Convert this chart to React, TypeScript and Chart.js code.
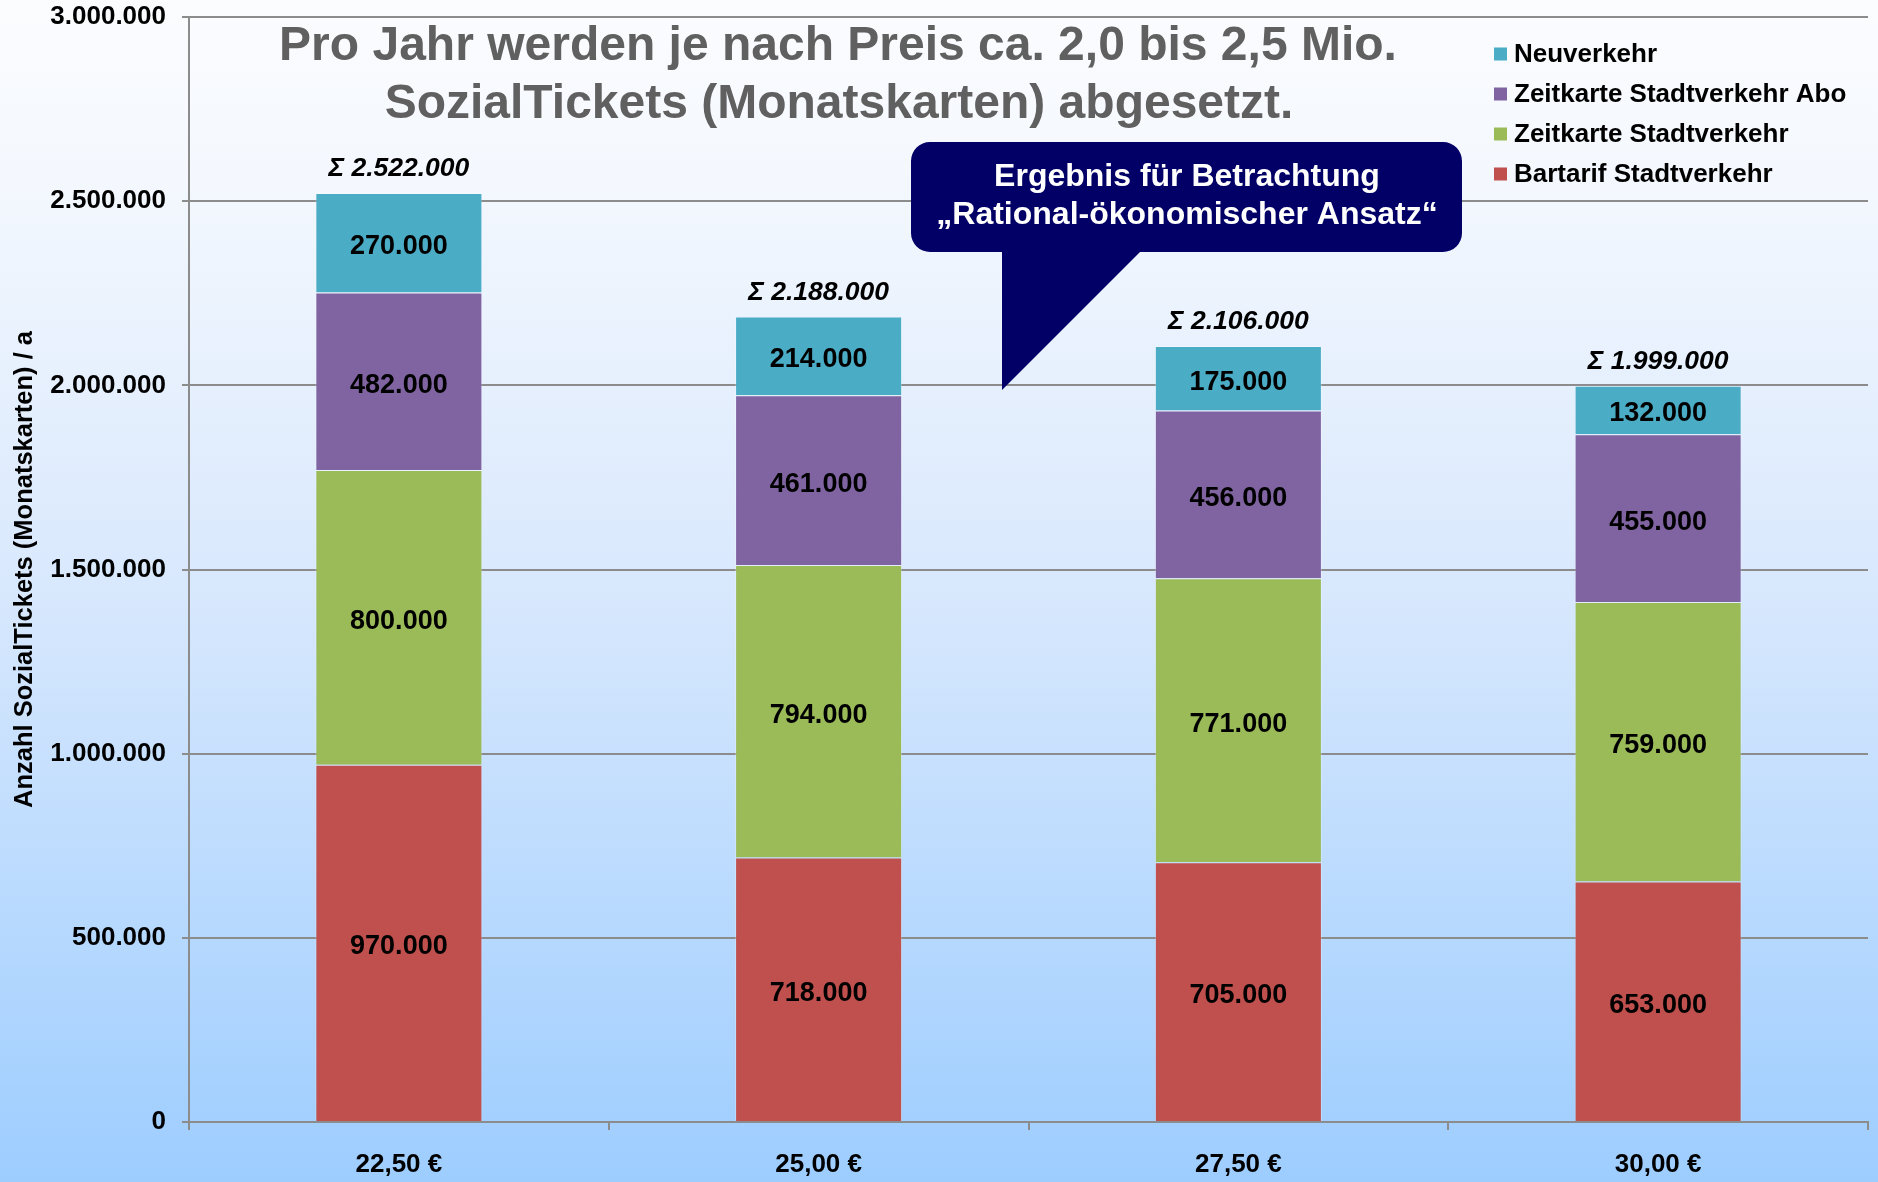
import React, { useEffect, useRef } from "react";
import { Chart, registerables } from "chart.js";

Chart.register(...registerables);

const categories = ["22,50 €", "25,00 €", "27,50 €", "30,00 €"];
const bartarif = [970000, 718000, 705000, 653000];
const zeitkarte = [800000, 794000, 771000, 759000];
const zeitkarteAbo = [482000, 461000, 456000, 455000];
const neuverkehr = [270000, 214000, 175000, 132000];
const totals = [2522000, 2188000, 2106000, 1999000];

const seriesNames = [
  "Bartarif Stadtverkehr",
  "Zeitkarte Stadtverkehr",
  "Zeitkarte Stadtverkehr Abo",
  "Neuverkehr",
];
const seriesColors = ["#C0504D", "#9BBB59", "#8064A2", "#4BACC6"];

const titleLines = [
  "Pro Jahr werden je nach Preis ca. 2,0 bis 2,5 Mio.",
  "SozialTickets (Monatskarten) abgesetzt.",
];
const calloutLines = ["Ergebnis für Betrachtung", "„Rational-ökonomischer Ansatz“"];
const yTitle = "Anzahl SozialTickets (Monatskarten) / a";

const FONT = '"Liberation Sans", Arial, Helvetica, sans-serif';

const fmt = (n: number) =>
  Math.round(n)
    .toString()
    .replace(/\B(?=(\d{3})+(?!\d))/g, ".");

const backgroundPlugin = {
  id: "bg",
  beforeDraw(chart: any) {
    const { ctx, width, height } = chart;
    const g = ctx.createLinearGradient(0, 0, 0, height);
    g.addColorStop(0, "#fbfcfe");
    g.addColorStop(0.15, "#f4f8fe");
    g.addColorStop(0.5, "#d8e8fd");
    g.addColorStop(1, "#9dcdff");
    ctx.save();
    ctx.fillStyle = g;
    ctx.fillRect(0, 0, width, height);
    ctx.restore();
  },
};

const labelsPlugin = {
  id: "labels",
  afterDatasetsDraw(chart: any) {
    const { ctx } = chart;
    ctx.save();
    ctx.textAlign = "center";
    ctx.textBaseline = "middle";
    ctx.fillStyle = "#000";
    ctx.font = `bold 27px ${FONT}`;
    chart.data.datasets.forEach((ds: any, di: number) => {
      const meta = chart.getDatasetMeta(di);
      meta.data.forEach((el: any, i: number) => {
        const v = ds.data[i];
        ctx.fillText(fmt(v), el.x, (el.y + el.base) / 2 + 4);
      });
    });
    // totals
    const top = chart.getDatasetMeta(chart.data.datasets.length - 1);
    ctx.font = `italic bold 26.5px ${FONT}`;
    top.data.forEach((el: any, i: number) => {
      ctx.fillText("Σ " + fmt(totals[i]), el.x, el.y - 24);
    });
    ctx.restore();
  },
};

const decorPlugin = {
  id: "decor",
  afterDraw(chart: any) {
    const { ctx } = chart;
    ctx.save();
    // title
    ctx.fillStyle = "#606060";
    ctx.font = `bold 48px ${FONT}`;
    ctx.textAlign = "center";
    ctx.textBaseline = "middle";
    ctx.fillText(titleLines[0], 838, 47);
    ctx.fillText(titleLines[1], 839, 105);

    // legend (reverse order)
    ctx.font = `bold 26px ${FONT}`;
    ctx.textAlign = "left";
    const ds = chart.data.datasets;
    for (let k = 0; k < ds.length; k++) {
      const d = ds[ds.length - 1 - k];
      const y = 54 + k * 40;
      ctx.fillStyle = d.backgroundColor;
      ctx.fillRect(1494, y - 6.5, 13, 13);
      ctx.fillStyle = "#000";
      ctx.fillText(d.label, 1514, y + 1);
    }

    // callout
    const x0 = 911, y0 = 142, x1 = 1462, y1 = 252, r = 19;
    ctx.fillStyle = "#020066";
    ctx.beginPath();
    ctx.moveTo(x0 + r, y0);
    ctx.lineTo(x1 - r, y0);
    ctx.arcTo(x1, y0, x1, y0 + r, r);
    ctx.lineTo(x1, y1 - r);
    ctx.arcTo(x1, y1, x1 - r, y1, r);
    ctx.lineTo(1140, y1);
    ctx.lineTo(1002, 390);
    ctx.lineTo(1002, y1);
    ctx.lineTo(x0 + r, y1);
    ctx.arcTo(x0, y1, x0, y1 - r, r);
    ctx.lineTo(x0, y0 + r);
    ctx.arcTo(x0, y0, x0 + r, y0, r);
    ctx.closePath();
    ctx.fill();
    ctx.fillStyle = "#ffffff";
    ctx.font = `bold 32px ${FONT}`;
    ctx.textAlign = "center";
    ctx.fillText(calloutLines[0], 1187, 177);
    ctx.fillText(calloutLines[1], 1187, 215);
    ctx.restore();
  },
};

export default function App() {
  const ref = useRef<HTMLCanvasElement | null>(null);
  useEffect(() => {
    if (!ref.current) return;
    const values = [bartarif, zeitkarte, zeitkarteAbo, neuverkehr];
    const chart = new Chart(ref.current, {
      type: "bar",
      data: {
        labels: categories,
        datasets: values.map((v, i) => ({
          label: seriesNames[i],
          data: v,
          backgroundColor: seriesColors[i],
          borderColor: "rgba(255,255,255,0.28)",
          borderWidth: 1,
          barPercentage: 0.398,
          categoryPercentage: 1,
        })),
      },
      options: {
        responsive: true,
        maintainAspectRatio: false,
        animation: false,
        layout: { padding: { top: 17, right: 10, left: 0, bottom: 0 } },
        plugins: {
          legend: { display: false },
          title: { display: false },
          tooltip: { enabled: false },
        },
        scales: {
          x: {
            stacked: true,
            grid: {
              display: true,
              drawOnChartArea: false,
              drawTicks: true,
              tickLength: 8,
              color: "#8c8c8c",
              lineWidth: 2,
              offset: true,
            },
            border: { display: true, color: "#8c8c8c", width: 2 },
            ticks: {
              color: "#000",
              font: { family: FONT, size: 26, weight: "bold" },
              padding: 19,
            },
            afterFit(scale: any) {
              scale.height = 60;
              scale.paddingLeft = 0;
              scale.paddingRight = 0;
            },
          },
          y: {
            stacked: true,
            min: 0,
            max: 3000000,
            ticks: {
              stepSize: 500000,
              color: "#000",
              font: { family: FONT, size: 26, weight: "bold" },
              padding: 16,
              callback: (v: any) => fmt(Number(v)),
            },
            grid: {
              color: "#8c8c8c",
              lineWidth: 2,
              tickLength: 7,
            },
            border: { display: true, color: "#8c8c8c", width: 2 },
            title: {
              display: true,
              text: yTitle,
              color: "#000",
              font: { family: FONT, size: 25.5, weight: "bold" },
              padding: { top: 10, bottom: 0 },
            },
            afterFit(scale: any) {
              scale.width = 189;
              scale.paddingTop = 0;
              scale.paddingBottom = 0;
            },
          },
        },
      },
      plugins: [backgroundPlugin, labelsPlugin, decorPlugin],
    });
    return () => chart.destroy();
  }, []);
  return (
    <div
      style={{
        position: "fixed",
        left: 0,
        top: 0,
        width: 1878,
        height: 1182,
      }}
    >
      <canvas ref={ref} />
    </div>
  );
}
